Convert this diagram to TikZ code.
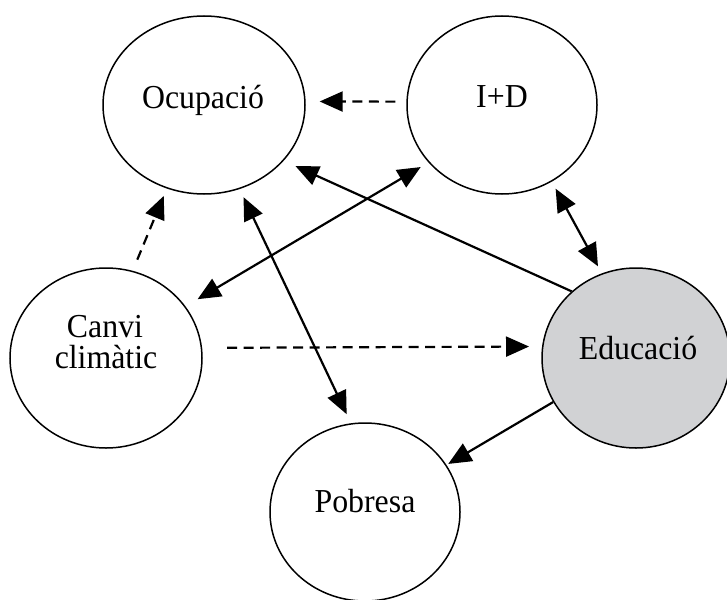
\documentclass[tikz,border=0pt]{standalone}
\usepackage{fontspec}
\setmainfont{Liberation Serif}[FakeStretch=0.95]
\usetikzlibrary{shapes.geometric,arrows.meta}
\definecolor{edufill}{RGB}{209,210,212}
\begin{document}
\begin{tikzpicture}[x=1pt,y=-1pt,
  blob/.style={draw, ellipse, line width=1.5pt, inner sep=0pt},
  lbl/.style={font=\fontsize{33.5}{34}\selectfont, anchor=base, inner sep=0pt},
  link/.style={line width=2.2pt, -{Triangle[length=23pt,width=20pt]}},
  twoway/.style={line width=2.2pt, {Triangle[length=23pt,width=20pt]}-{Triangle[length=23pt,width=20pt]}},
  weak/.style={link, dash pattern=on 10pt off 6.5pt}]
\useasboundingbox (0,0) rectangle (727,599);

% the five factors
\node[blob, minimum width=202pt, minimum height=178pt] (ocu) at (204,105) {};
\node[blob, minimum width=190pt, minimum height=178pt] (ide) at (502,105) {};
\node[blob, minimum width=192pt, minimum height=180pt] (can) at (106,358) {};
\node[blob, fill=edufill, minimum width=188pt, minimum height=180pt] (edu) at (636,358) {};
\node[blob, minimum width=190pt, minimum height=178pt] (pob) at (365,512) {};

% labels
\node[lbl] (ocu-t) at (203,108) {Ocupació};
\node[lbl] (ide-t) at (502,107) {I+D};
\node[lbl] (can-t1) at (105,337) {Canvi};
\node[lbl] (can-t2) at (106,368) {climàtic};
\node[lbl] (edu-t) at (638,359) {Educació};
\node[lbl] (pob-t) at (365,512) {Pobresa};

% weak (dashed) influences
\draw[weak, shorten <=11pt, shorten >=14pt] (ide.178) -- (ocu.2);
\draw[weak, shorten <=12pt, shorten >=8pt] (can.73) -- (ocu.246.8);
\draw[weak, shorten <=25pt, shorten >=13pt] (can.6.3) -- (edu.173.5);

% strong influences
\draw[twoway, shorten <=14pt, shorten >=9pt] (can.33) -- (ide.218.2);
\draw[twoway, shorten <=9pt, shorten >=10pt] (ocu.293.7) -- (pob.99.8);
\draw[twoway, shorten <=8pt, shorten >=8pt] (ide.303) -- (edu.112.1);
\draw[link, shorten >=13pt] (edu.134.6) -- (ocu.325);
\draw[link, shorten >=2pt] (edu.208.8) -- (pob.30.9);
\end{tikzpicture}
\end{document}
